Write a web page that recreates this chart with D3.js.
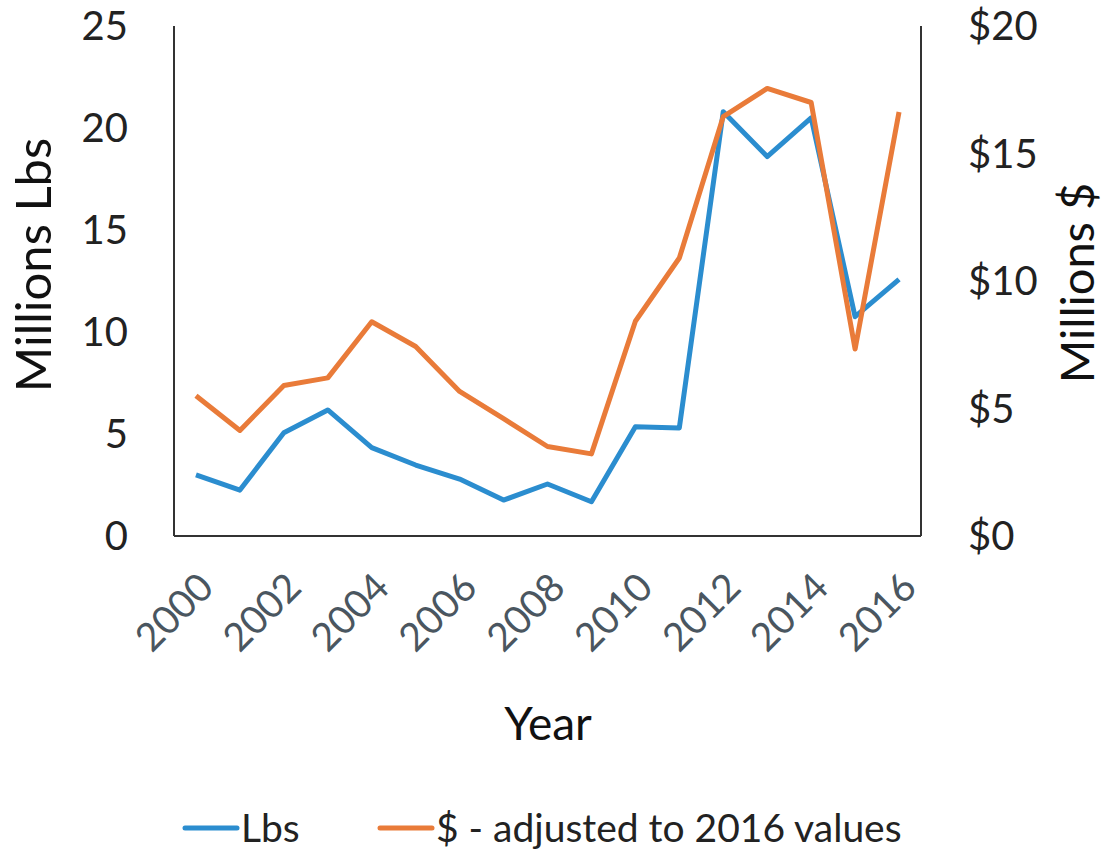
<!DOCTYPE html>
<html><head><meta charset="utf-8">
<script src="https://cdn.jsdelivr.net/npm/d3@7"></script>
<style>body{margin:0;background:#fff}svg{display:block}text{font-family:Lato,"Open Sans",sans-serif}</style>
</head><body><svg id="c" width="1108" height="849"></svg>
<script>
const years = [2000,2001,2002,2003,2004,2005,2006,2007,2008,2009,2010,2011,2012,2013,2014,2015,2016];
const lbs = [3.0,2.25,5.06,6.18,4.33,3.48,2.79,1.76,2.55,1.68,5.36,5.3,20.8,18.6,20.5,10.75,12.58];
const dollars = [5.5,4.14,5.9,6.2,8.4,7.43,5.67,4.6,3.51,3.22,8.42,10.9,16.45,17.55,17.0,7.33,16.63];
const leftTicks = [0,5,10,15,20,25];
const rightTicks = [0,5,10,15,20];
const xTickYears = [2000,2002,2004,2006,2008,2010,2012,2014,2016];
const seriesNames = ["Lbs","$ - adjusted to 2016 values"];
const colors = ["#2b8dcf","#e97b39"];

const svg = d3.select("#c");
const L=174, R=921, T=26, B=536;
const x = d3.scaleBand().domain(years).range([L,R]);
const yL = d3.scaleLinear().domain([0,25]).range([B,T]);
const yR = d3.scaleLinear().domain([0,20]).range([B,T]);
const cx = d => x(d)+x.bandwidth()/2;

// axes lines
const ax = svg.append("g").attr("stroke","#333").attr("stroke-width",2);
ax.append("line").attr("x1",L).attr("x2",L).attr("y1",T).attr("y2",B);
ax.append("line").attr("x1",R).attr("x2",R).attr("y1",T).attr("y2",B);
ax.append("line").attr("x1",L).attr("x2",R).attr("y1",B).attr("y2",B);

// left ticks
svg.append("g").selectAll("text").data(leftTicks).join("text")
  .attr("x",128).attr("y",d=>yL(d)).attr("dy","0.35em").attr("text-anchor","end")
  .attr("font-size",40).attr("fill","#222").text(d=>d);
// right ticks
svg.append("g").selectAll("text").data(rightTicks).join("text")
  .attr("x",968).attr("y",d=>yR(d)).attr("dy","0.35em").attr("text-anchor","start")
  .attr("font-size",40).attr("fill","#222").text(d=>"$"+d);
// x ticks
svg.append("g").selectAll("text").data(xTickYears).join("text")
  .attr("transform",d=>`translate(${cx(d)+10},${B+44}) rotate(-45)`)
  .attr("text-anchor","end").attr("dy","0.35em")
  .attr("font-size",39).attr("fill","#4a5660").text(d=>d);

// titles
svg.append("text").attr("transform",`translate(34,265) rotate(-90)`).attr("text-anchor","middle")
  .attr("dy","0.35em").attr("font-size",49).attr("fill","#111").text("Millions Lbs");
svg.append("text").attr("transform",`translate(1078,283) rotate(-90)`).attr("text-anchor","middle")
  .attr("dy","0.35em").attr("font-size",47).attr("fill","#111").text("Millions $");
svg.append("text").attr("x",548).attr("y",724).attr("text-anchor","middle")
  .attr("dy","0.35em").attr("font-size",46).attr("fill","#111").text("Year");

// lines
const lineL = d3.line().x((d,i)=>cx(years[i])).y(d=>yL(d));
const lineR = d3.line().x((d,i)=>cx(years[i])).y(d=>yR(d));
svg.append("path").datum(lbs).attr("d",lineL).attr("fill","none").attr("stroke",colors[0])
  .attr("stroke-width",5).attr("stroke-linejoin","round");
svg.append("path").datum(dollars).attr("d",lineR).attr("fill","none").attr("stroke",colors[1])
  .attr("stroke-width",5).attr("stroke-linejoin","round");

// legend
const lg = svg.append("g");
const legX = [185,380];
seriesNames.forEach((n,i)=>{
  lg.append("line").attr("x1",legX[i]).attr("x2",legX[i]+52).attr("y1",828).attr("y2",828)
    .attr("stroke",colors[i]).attr("stroke-width",5).attr("stroke-linecap","round");
  lg.append("text").attr("x",legX[i]+56).attr("y",828).attr("dy","0.35em")
    .attr("font-size",39).attr("fill","#222").text(n);
});
</script></body></html>
